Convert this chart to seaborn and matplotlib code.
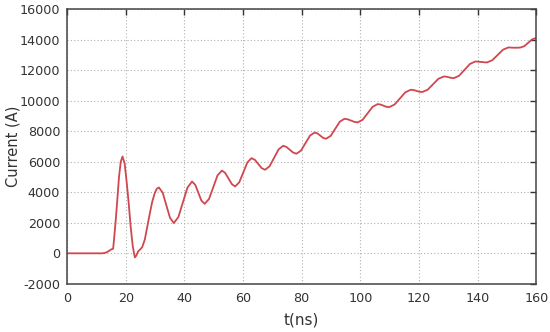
import matplotlib
matplotlib.use("Agg")
import matplotlib.pyplot as plt
import pandas as pd
import seaborn as sns

# time (ns) and current (A)
t_ns = [
    0, 4, 8, 12, 13, 14, 15, 15.7, 16.0, 16.6, 17.2, 17.7, 18.3, 18.9,
    19.6, 20.3, 21.0, 21.7, 22.4, 23.1, 23.6, 24.2, 24.8, 25.6, 26.5,
    27.3, 28.2, 29.0, 29.9, 30.6, 31.3, 32.6, 33.85, 35.1, 36.4,
    37.95, 39.5, 41.05, 42.6, 43.7, 44.75, 45.8, 46.9, 48.4, 49.85,
    51.3, 52.8, 53.9, 55.05, 56.2, 57.3, 58.7, 60.1, 61.5, 62.9,
    64.05, 65.2, 66.35, 67.5, 69.05, 70.6, 72.15, 73.7, 74.8, 75.95,
    77.1, 78.2, 79.75, 81.3, 82.85, 84.4, 85.4, 86.35, 87.3, 88.3,
    89.9, 91.45, 93.0, 94.6, 95.7, 96.85, 98.0, 99.1, 100.8, 102.5,
    104.2, 105.9, 106.9, 107.85, 108.8, 109.8, 111.65, 113.5, 115.35,
    117.2, 118.2, 119.15, 120.1, 121.1, 122.95, 124.8, 126.65, 128.5,
    129.35, 130.2, 131.05, 131.9, 133.7, 135.55, 137.4, 139.2, 140.2,
    141.2, 142.2, 143.2, 145.0, 146.85, 148.7, 150.5, 152.5, 154.5,
    155.9, 157.25, 158.6, 160,
]
current_a = [
    0, 0, 0, 0, 30, 120, 250, 300, 900, 2200, 3700, 5000, 6000, 6340,
    5900, 4700, 3300, 1700, 450, -270, -150, 120, 230, 400, 900,
    1700, 2600, 3350, 3950, 4230, 4310, 3970, 3145, 2320, 1980,
    2377, 3340, 4303, 4700, 4487, 3970, 3453, 3240, 3558, 4330,
    5102, 5420, 5267, 4898, 4528, 4375, 4646, 5302, 5959, 6230,
    6119, 5850, 5581, 5470, 5699, 6255, 6811, 7040, 6964, 6780,
    6596, 6520, 6723, 7215, 7707, 7910, 7850, 7705, 7560, 7500,
    7691, 8155, 8619, 8810, 8775, 8690, 8605, 8570, 8745, 9170,
    9595, 9770, 9741, 9670, 9599, 9570, 9736, 10140, 10544,
    10710, 10688, 10635, 10582, 10560, 10709, 11070, 11431, 11580,
    11564, 11525, 11486, 11470, 11629, 12015, 12401, 12560, 12551,
    12530, 12509, 12500, 12643, 12990, 13337, 13480, 13460, 13470,
    13560, 13785, 14010, 14100,
]

x_ticks = [0, 20, 40, 60, 80, 100, 120, 140, 160]
y_ticks = [-2000, 0, 2000, 4000, 6000, 8000, 10000, 12000, 14000, 16000]

sns.set_theme(style="white")
plt.rcParams["font.family"] = ["DejaVu Sans"]
plt.rcParams["axes.unicode_minus"] = False

df = pd.DataFrame({"t": t_ns, "I": current_a})

fig, ax = plt.subplots(figsize=(5.5, 3.32), dpi=100)
fig.subplots_adjust(left=0.122, right=0.975, top=0.973, bottom=0.145)

sns.lineplot(data=df, x="t", y="I", ax=ax, color="#d0474f", linewidth=1.3)

ax.set_xlim(0, 160)
ax.set_ylim(-2000, 16000)
ax.set_xticks(x_ticks)
ax.set_yticks(y_ticks)
ax.grid(True, color="#b0b0b0", linestyle=(0, (1, 2)), linewidth=0.8)
ax.tick_params(direction="in", length=4, width=1, color="#333333",
               top=True, right=True, labelsize=9.2, labelcolor="#333333")
ax.tick_params(axis="x", pad=6)
ax.tick_params(axis="y", pad=5)
for s in ax.spines.values():
    s.set_color("#444444")
    s.set_linewidth(1.1)

ax.set_xlabel("t(ns)", fontsize=11, color="#333333")
ax.set_ylabel("Current (A)", fontsize=10.5, color="#333333")
ax.yaxis.set_label_coords(-0.1, 0.5)
ax.xaxis.set_label_coords(0.5, -0.105)

fig.savefig("out.png", dpi=100)
